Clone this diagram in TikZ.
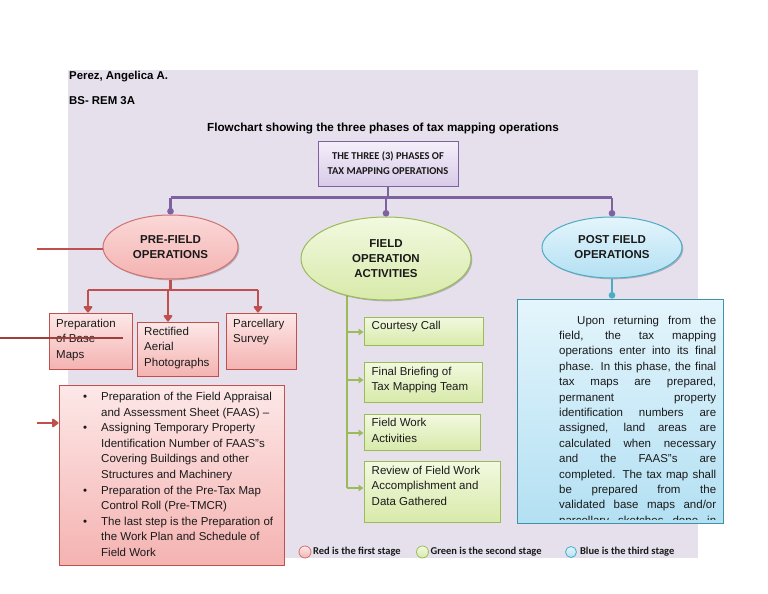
\documentclass[tikz,border=0pt]{standalone}
\usepackage{fontspec}
\setmainfont{Liberation Sans}
\newfontfamily\calfont{Carlito}
\usetikzlibrary{arrows.meta,shapes.geometric,shadows,calc}
\pgfdeclarelayer{bglayer}
\pgfdeclarelayer{linklayer}
\pgfsetlayers{bglayer,linklayer,main}
\definecolor{panelc}{HTML}{E5E0EC}
\definecolor{purp}{HTML}{7E62A0}
\definecolor{topT}{HTML}{F4EFFA}
\definecolor{topB}{HTML}{D8CBE8}
\definecolor{redb}{HTML}{C0504D}
\definecolor{darkred}{HTML}{9E3F3C}
\definecolor{pinkT}{HTML}{FDE8E8}
\definecolor{pinkB}{HTML}{F4B3B1}
\definecolor{greenb}{HTML}{9BBB59}
\definecolor{greenT}{HTML}{F2F9E0}
\definecolor{greenB}{HTML}{D8EAAA}
\definecolor{blueb}{HTML}{4BACC6}
\definecolor{blueT}{HTML}{E4F5FC}
\definecolor{blueB}{HTML}{B3E0F3}
\definecolor{inkc}{HTML}{1A1A1A}
\begin{document}
\begin{tikzpicture}[x=1pt,y=-1pt,
  hdr/.style={font=\bfseries\fontsize{11.4}{13}\selectfont, text=black, inner sep=0pt},
  txt/.style={font=\fontsize{11.5}{15.4}\selectfont, text=inkc, inner sep=0pt},
  shad/.style={drop shadow={shadow xshift=1.3pt, shadow yshift=-1.3pt, opacity=0.22, fill=black}},
  topbox/.style={draw=purp, line width=0.9pt, top color=topT, bottom color=topB, shad,
     align=center, font=\calfont\bfseries\fontsize{10.5}{15}\selectfont, text=black!90},
  ellbase/.style={ellipse, line width=1pt, shad, align=center, inner sep=0pt,
     font=\bfseries\fontsize{11.5}{15}\selectfont, text=inkc},
  preell/.style={ellbase, draw=redb!80, top color=pinkT!70!pinkB, bottom color=pinkB},
  fieldell/.style={ellbase, draw=greenb, top color=greenT, bottom color=greenB},
  postell/.style={ellbase, draw=blueb, top color=blueT, bottom color=blueB},
  pinkbox/.style={draw=redb, line width=1pt, top color=pinkT, bottom color=pinkB, shad, inner sep=0pt},
  greenbox/.style={draw=greenb, line width=1pt, top color=greenT, bottom color=greenB, shad, inner sep=0pt},
  bluebox/.style={draw=blueb!85!black, line width=1pt, top color=blueT, bottom color=blueB, shad, inner sep=0pt},
  purplink/.style={draw=purp, line width=2.2pt},
  redlink/.style={draw=redb, line width=2.7pt},
  greenlink/.style={draw=greenb, line width=2.6pt},
  bluelink/.style={draw=blueb, line width=2.2pt},
  dot/.style={-{Circle[length=6.5pt]}},
  tri/.style={-{Triangle[length=7pt,width=10pt,round]}},
  gtri/.style={-{Triangle[length=5pt,width=6.5pt]}},
  legc/.style={circle, minimum size=12pt, inner sep=0pt, line width=0.8pt},
  legt/.style={font=\calfont\bfseries\fontsize{10.5}{12}\selectfont, text=black!90, inner sep=0pt, anchor=west}
]
\useasboundingbox (0,0) rectangle (768,594);
\begin{pgfonlayer}{bglayer}
  \fill[panelc] (68,70) rectangle (698,558);
\end{pgfonlayer}

% header
\node[hdr, anchor=base west] (author) at (69,79.5) {Perez, Angelica A.};
\node[hdr, anchor=base west] (klass) at (69,104.5) {BS- REM 3A};
\node[hdr, anchor=base, font=\bfseries\fontsize{11.7}{13}\selectfont] (title) at (383,131) {Flowchart showing the three phases of tax mapping operations};

% top box
\node[topbox, minimum width=140pt, minimum height=45pt] (top) at (388,163.5)
  {THE THREE (3) PHASES OF\\TAX MAPPING OPERATIONS};

% ellipses
\node[preell, minimum width=135pt, minimum height=64pt] (pre) at (170.5,247) {PRE-FIELD\\OPERATIONS};
\node[fieldell, minimum width=170pt, minimum height=83pt] (field) at (386,258.5) {FIELD\\OPERATION\\ACTIVITIES};
\node[postell, minimum width=140pt, minimum height=61pt] (post) at (612,247.5) {POST FIELD\\OPERATIONS};

% purple connectors
\coordinate (pj) at (388,197.5);
\draw[purplink] (top.south) -- (pj);
\draw[purplink] (pj -| pre.north) -- (pj -| post.north);
\draw[purplink, dot] (pj -| pre.north) -- (pre.north);
\draw[purplink, dot] (pj -| field.north) -- (field.north);
\draw[purplink, dot] (pj -| post.north) -- (post.north);

% pre-field boxes
\node[pinkbox, minimum width=83pt, minimum height=56pt] (b1) at (90.5,341) {};
\node[pinkbox, minimum width=81pt, minimum height=54pt] (b2) at (177.5,349) {};
\node[pinkbox, minimum width=70pt, minimum height=56pt] (b3) at (261,341) {};
\node[pinkbox, minimum width=225pt, minimum height=180pt] (b4) at (171.5,475) {};

\node[txt, anchor=base west] (b1t) at ($(b1.north west)+(7.5,15)$)
  {\parbox[t]{74pt}{Preparation\\of Base\\Maps}};
\node[txt, anchor=base west] (b2t) at ($(b2.north west)+(7.5,14)$)
  {\parbox[t]{72pt}{Rectified\\Aerial\\Photographs}};
\node[txt, anchor=base west] (b3t) at ($(b3.north west)+(7.5,15)$)
  {\parbox[t]{62pt}{Parcellary\\Survey}};
\node[txt, anchor=base west] (b4t) at (101,400.5)
  {\parbox[t]{200pt}{\fontsize{11.5}{15.6}\selectfont\leavevmode
  \llap{\textbullet\hspace{14pt}}Preparation of the Field Appraisal\\
  and Assessment Sheet (FAAS) –\\
  \llap{\textbullet\hspace{14pt}}Assigning Temporary Property\\
  Identification Number of FAAS"s\\
  Covering Buildings and other\\
  Structures and Machinery\\
  \llap{\textbullet\hspace{14pt}}Preparation of the Pre-Tax Map\\
  Control Roll (Pre-TMCR)\\
  \llap{\textbullet\hspace{14pt}}The last step is the Preparation of\\
  the Work Plan and Schedule of\\
  Field Work}};

% red connectors
\coordinate (rj) at (pre.south |- 0,290);
\coordinate (rj1) at (88,290);
\coordinate (rj2) at (168,290);
\coordinate (rj3) at (258,290);
\draw[redlink] (pre.south) -- (rj);
\draw[redlink] (rj1) -- (rj3);
\draw[redlink, tri] (rj1) -- (rj1 |- b1.north);
\draw[redlink, tri] (rj2) -- (rj2 |- b2.north);
\draw[redlink, tri] (rj3) -- (rj3 |- b3.north);

\coordinate (l1) at (37,249);
\draw[redlink] (l1) -- (l1 -| pre.west);
\coordinate (l2a) at (0,338);
\coordinate (l2b) at (123,338);
\draw[draw=darkred, line width=2.6pt] (l2a) -- (l2b);
\coordinate (l3) at (37,423);
\draw[redlink, tri] (l3) -- (l3 -| b4.west);

% field boxes
\node[greenbox, minimum width=119pt, minimum height=28pt] (c1) at (423.5,331) {};
\node[greenbox, minimum width=118pt, minimum height=40pt] (c2) at (423,382) {};
\node[greenbox, minimum width=116pt, minimum height=36pt] (c3) at (422,432) {};
\node[greenbox, minimum width=136pt, minimum height=61pt] (c4) at (432,491.5) {};
\node[txt, anchor=base west] (c1t) at ($(c1.north west)+(8,13.3)$) {\parbox[t]{110pt}{Courtesy Call}};
\node[txt, anchor=base west] (c2t) at ($(c2.north west)+(8,13.7)$) {\parbox[t]{110pt}{Final Briefing of\\Tax Mapping Team}};
\node[txt, anchor=base west] (c3t) at ($(c3.north west)+(8,13.3)$) {\parbox[t]{108pt}{Field Work\\Activities}};
\node[txt, anchor=base west] (c4t) at ($(c4.north west)+(8,14)$) {\parbox[t]{128pt}{Review of Field Work\\Accomplishment and\\Data Gathered}};

% green connectors
\coordinate (gtop) at (347,285);
\coordinate (g1) at (347,332);
\coordinate (g2) at (347,380);
\coordinate (g3) at (347,433);
\coordinate (g4) at (347,488);
\begin{pgfonlayer}{linklayer}
  \draw[greenlink] (gtop) -- (g4);
\end{pgfonlayer}
\draw[greenlink, gtri] (g1) -- (g1 -| c1.west);
\draw[greenlink, gtri] (g2) -- (g2 -| c2.west);
\draw[greenlink, gtri] (g3) -- (g3 -| c3.west);
\draw[greenlink, gtri] (g4) -- (g4 -| c4.west);

% post field box
\node[bluebox, minimum width=206pt, minimum height=224pt] (blue) at (620,411) {};
\draw[bluelink, dot] (post.south) -- (post.south |- blue.north);
\begin{scope}
  \clip (518,301) rectangle (722,519);
  \node[txt, anchor=base west] (bluet) at (559,324)
  {\parbox[t]{157pt}{\fontsize{11.5}{15.4}\selectfont
  \makebox[157pt][s]{\hspace*{18pt}Upon returning from the}\\
  \makebox[157pt][s]{field, the tax mapping}\\
  \makebox[157pt][s]{operations enter into its final}\\
  \makebox[157pt][s]{phase. In this phase, the final}\\
  \makebox[157pt][s]{tax maps are prepared,}\\
  \makebox[157pt][s]{permanent property}\\
  \makebox[157pt][s]{identification numbers are}\\
  \makebox[157pt][s]{assigned, land areas are}\\
  \makebox[157pt][s]{calculated when necessary}\\
  \makebox[157pt][s]{and the FAAS"s are}\\
  \makebox[157pt][s]{completed. The tax map shall}\\
  \makebox[157pt][s]{be prepared from the}\\
  \makebox[157pt][s]{validated base maps and/or}\\
  \makebox[157pt][s]{parcellary sketches done in}}};
\end{scope}

% legend
\node[legc, draw=redb!80, top color=pinkT, bottom color=pinkB] (lr) at (305,552) {};
\node[legt] (lrt) at ($(lr.east)+(1.5,0)$) {Red is the first stage};
\node[legc, draw=greenb, top color=greenT, bottom color=greenB] (lg) at (422.5,552) {};
\node[legt] (lgt) at ($(lg.east)+(1.5,0)$) {Green is the second stage};
\node[legc, draw=blueb, top color=blueT, bottom color=blueB, minimum size=11pt] (lb) at (571,552) {};
\node[legt] (lbt) at ($(lb.east)+(3,0)$) {Blue is the third stage};
\end{tikzpicture}
\end{document}
